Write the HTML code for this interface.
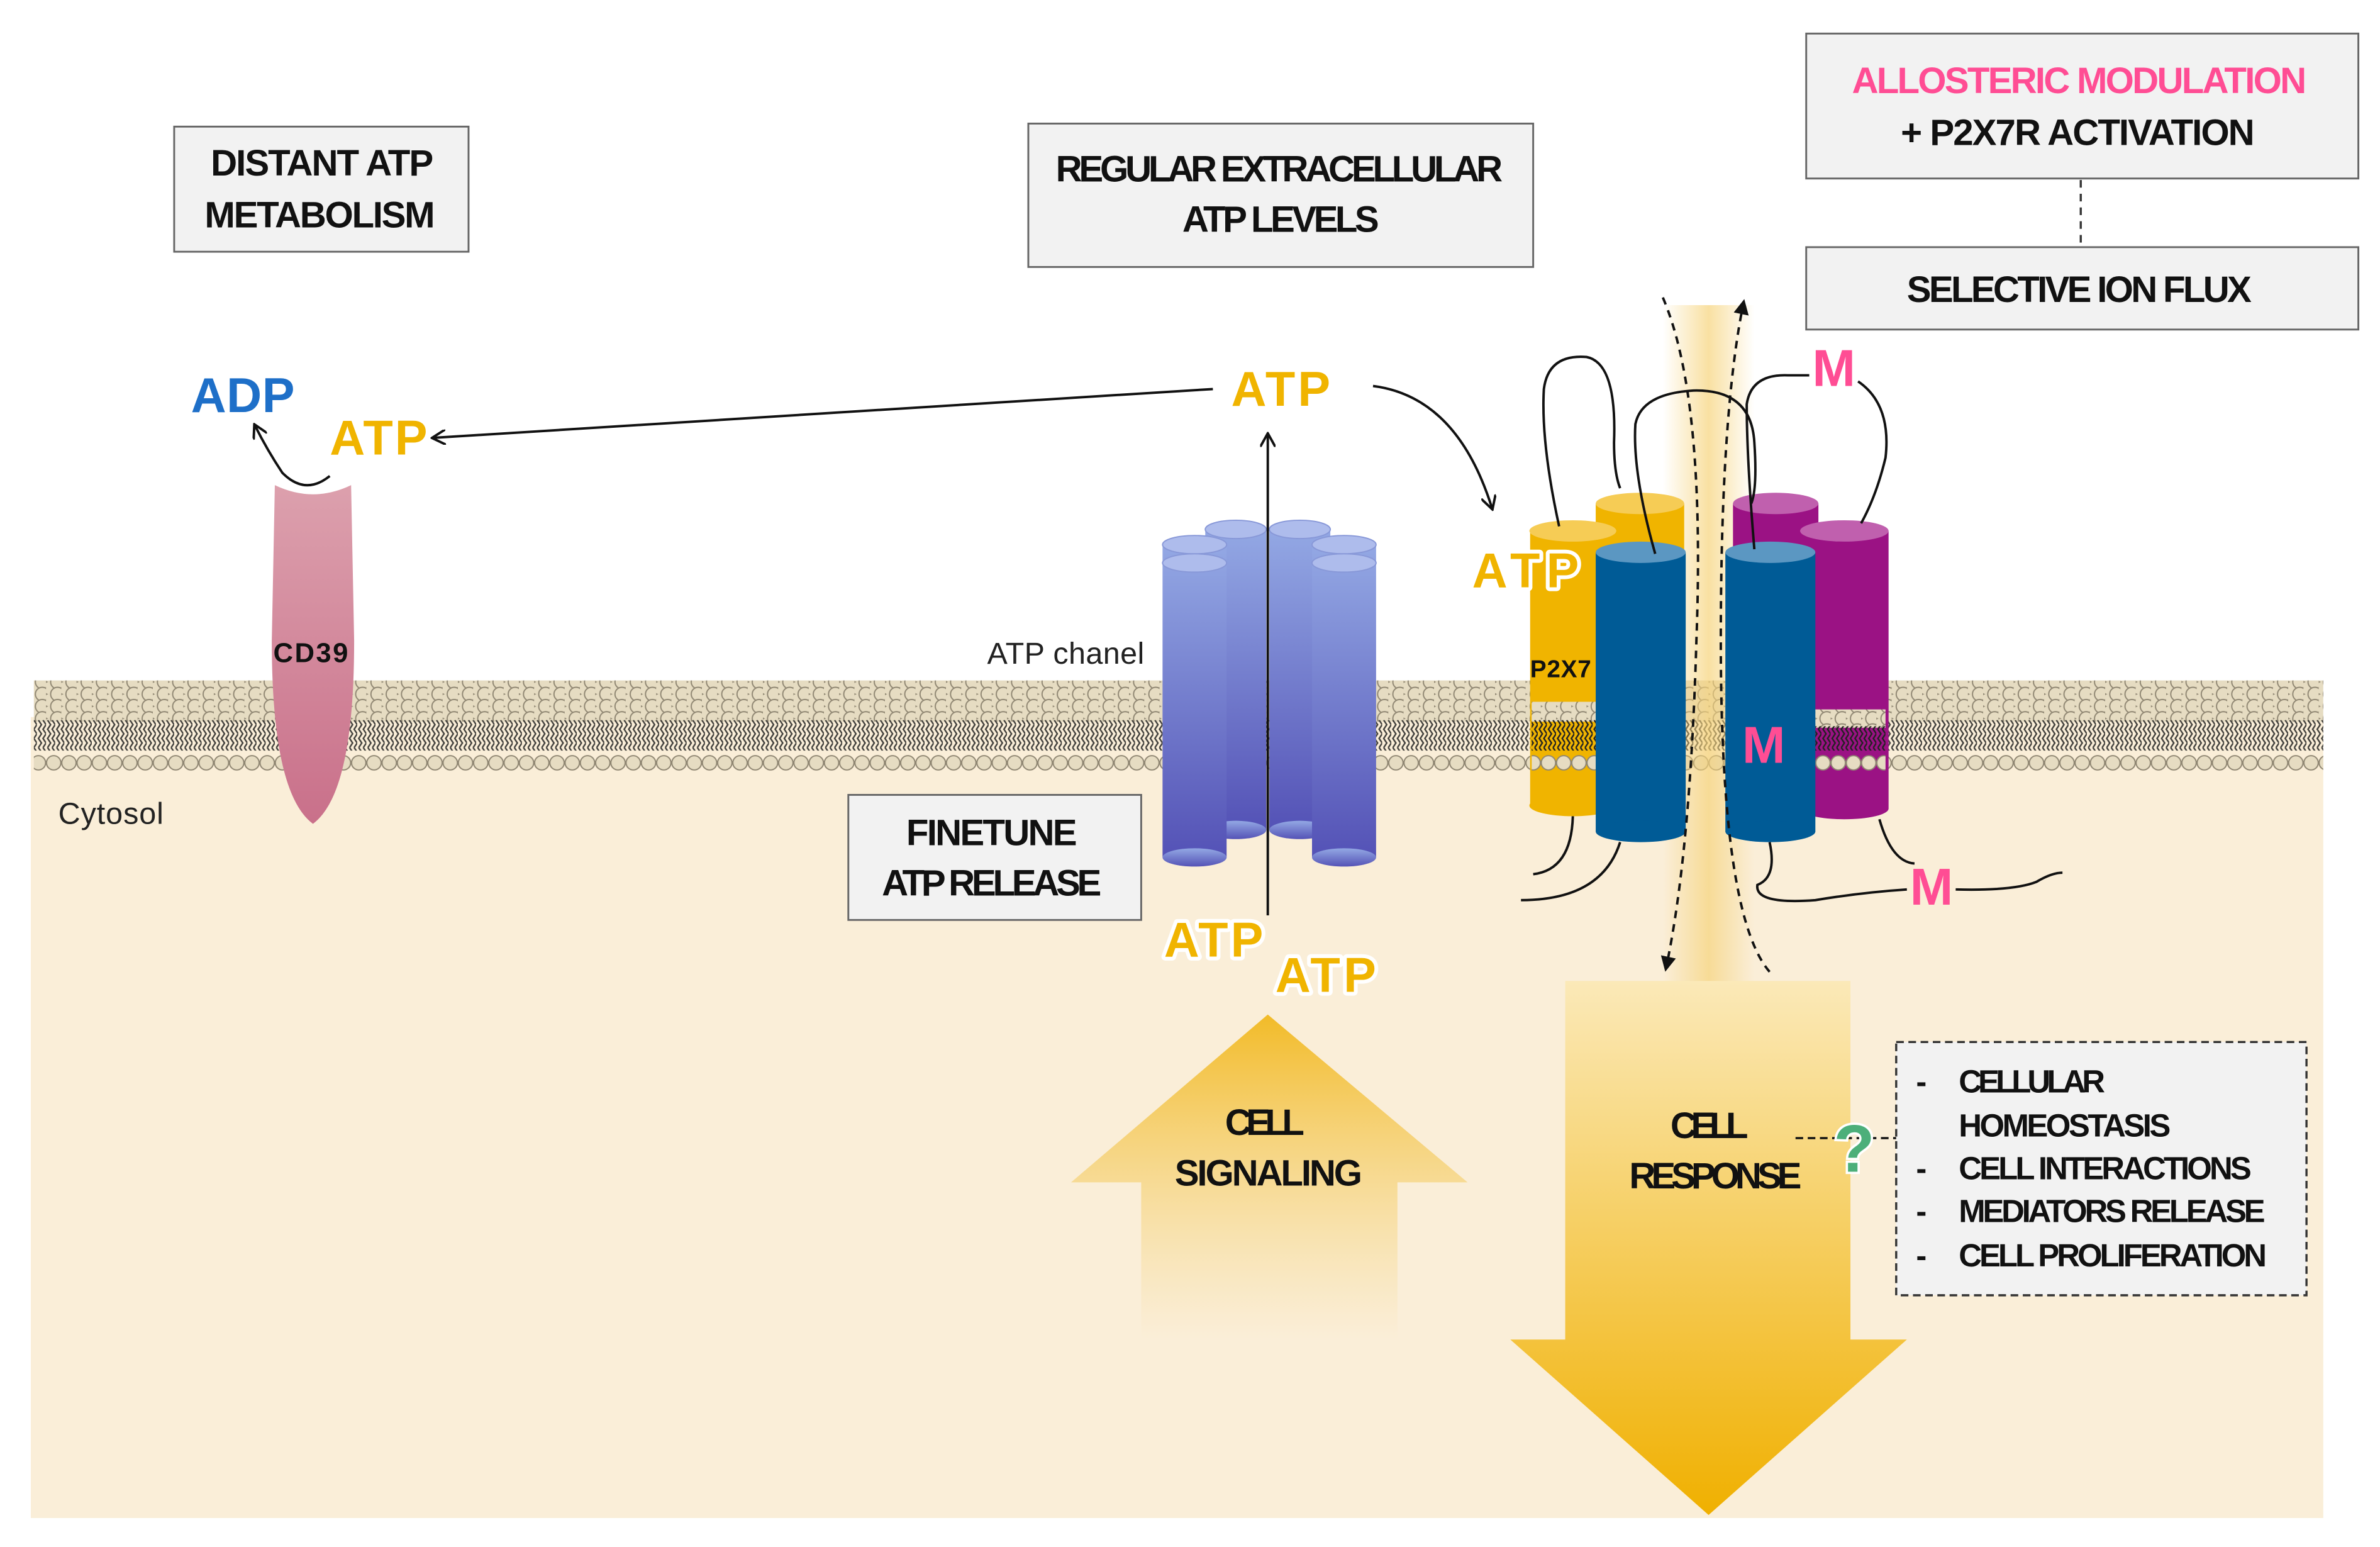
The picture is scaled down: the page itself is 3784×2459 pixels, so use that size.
<!DOCTYPE html>
<html><head><meta charset="utf-8"><style>
html,body{margin:0;padding:0;background:#fff}
svg{display:block}
text{font-family:"Liberation Sans",sans-serif}
.b{font-weight:bold;fill:#111;font-size:24px}
.atp{font-weight:bold;fill:#f0b400;font-size:32px;stroke:#fff;stroke-width:5px;paint-order:stroke;stroke-linejoin:round}
.m{font-weight:bold;fill:#ff4d94;font-size:34px}
</style></head><body>
<svg width="3784" height="2459" viewBox="0 0 1560 1014" xmlns="http://www.w3.org/2000/svg">
<defs>
<pattern id="heads" x="0" y="447" width="10" height="8" patternUnits="userSpaceOnUse">
<circle cx="2.5" cy="4" r="4.5" fill="#e6dcc2" stroke="#8f8672" stroke-width="0.8"/>
<circle cx="7.5" cy="0" r="4.5" fill="#e6dcc2" stroke="#8f8672" stroke-width="0.8"/>
<circle cx="7.5" cy="8" r="4.5" fill="#e6dcc2" stroke="#8f8672" stroke-width="0.8"/>
</pattern>
<pattern id="row" x="0" y="490" width="10" height="40" patternUnits="userSpaceOnUse">
<circle cx="5" cy="10" r="4.7" fill="#e6dcc2" stroke="#8f8672" stroke-width="0.8"/>
</pattern>
<pattern id="tails" x="0" y="472" width="6" height="18" patternUnits="userSpaceOnUse">
<path d="M1 0 l2 3 l-2 3 l2 3 l-2 3 l2 3 l-2 3 M4 0 l2 3 l-2 3 l2 3 l-2 3 l2 3 l-2 3" fill="none" stroke="#222" stroke-width="1"/>
</pattern>
<linearGradient id="cd39" x1="0" y1="0" x2="0" y2="1"><stop offset="0" stop-color="#dca0ad"/><stop offset="1" stop-color="#c9708a"/></linearGradient>
<linearGradient id="chan" x1="0" y1="0" x2="0" y2="1"><stop offset="0" stop-color="#93a8e4"/><stop offset="1" stop-color="#5452b6"/></linearGradient>
<linearGradient id="up" x1="0" y1="0" x2="0" y2="1"><stop offset="0" stop-color="#f2bb28"/><stop offset="1" stop-color="#faeed8" stop-opacity="0.6"/></linearGradient>
<linearGradient id="down" x1="0" y1="0" x2="0" y2="1"><stop offset="0" stop-color="#fbe9b8"/><stop offset="1" stop-color="#f0b000"/></linearGradient>
<linearGradient id="glow" x1="0" y1="0" x2="1" y2="0"><stop offset="0" stop-color="#f6d37a" stop-opacity="0"/><stop offset="0.5" stop-color="#f6d37a" stop-opacity="0.7"/><stop offset="1" stop-color="#f6d37a" stop-opacity="0"/></linearGradient>
<marker id="ah" markerWidth="10" markerHeight="10" refX="8" refY="5" orient="auto" markerUnits="userSpaceOnUse"><path d="M0 0 L9 5 L0 10" fill="none" stroke="#111" stroke-width="1.6"/></marker>
<marker id="ahf" markerWidth="10" markerHeight="10" refX="8" refY="5" orient="auto" markerUnits="userSpaceOnUse"><path d="M0 0 L10 5 L0 10 z" fill="#111"/></marker>
</defs>

<rect x="20" y="470" width="1503" height="525" fill="#faeed8"/>
<rect x="22" y="446" width="1501" height="27" fill="url(#heads)"/>
<rect x="22" y="472" width="1501" height="20" fill="url(#tails)" opacity="0.85"/>
<rect x="22" y="494" width="1501" height="17" fill="url(#row)"/>

<rect x="114" y="83" width="193" height="82" fill="#f2f2f2" stroke="#666" stroke-width="1.2"/>
<text class="b" x="138" y="115" textLength="146">DISTANT ATP</text>
<text class="b" x="134" y="149" textLength="151">METABOLISM</text>

<rect x="674" y="81" width="331" height="94" fill="#f2f2f2" stroke="#666" stroke-width="1.2"/>
<text class="b" x="692" y="119" textLength="293">REGULAR EXTRACELLULAR</text>
<text class="b" x="775" y="152" textLength="129">ATP LEVELS</text>

<rect x="1184" y="22" width="362" height="95" fill="#f2f2f2" stroke="#666" stroke-width="1.2"/>
<text class="b" x="1214" y="61" textLength="298" style="fill:#ff4d94">ALLOSTERIC MODULATION</text>
<text class="b" x="1246" y="95" textLength="232">+ P2X7R ACTIVATION</text>
<line x1="1364" y1="118" x2="1364" y2="161" stroke="#333" stroke-width="1.4" stroke-dasharray="5,4"/>
<rect x="1184" y="162" width="362" height="54" fill="#f2f2f2" stroke="#666" stroke-width="1.2"/>
<text class="b" x="1250" y="198" textLength="226">SELECTIVE ION FLUX</text>

<rect x="556" y="521" width="192" height="82" fill="#f2f2f2" stroke="#666" stroke-width="1.2"/>
<text class="b" x="594" y="554" textLength="112">FINETUNE</text>
<text class="b" x="578" y="587" textLength="144">ATP RELEASE</text>

<path d="M180 318 Q205 330 230 318 L232 420 Q232 520 205 540 Q178 520 178 420 Z" fill="url(#cd39)"/>
<text x="179" y="434" font-weight="bold" font-size="18" fill="#111" textLength="49">CD39</text>
<path d="M216 312 Q200 325 185 310 Q175 295 167 279" fill="none" stroke="#111" stroke-width="1.6" marker-end="url(#ah)"/>
<text x="125" y="270" font-weight="bold" font-size="32" fill="#1e6fc8" stroke="#fff" stroke-width="4" paint-order="stroke" textLength="68">ADP</text>
<text class="atp" x="216" y="298" textLength="64">ATP</text>

<g fill="url(#chan)">
<rect x="790" y="347" width="40" height="197"/><ellipse cx="810" cy="544" rx="20" ry="6"/>
<rect x="832" y="347" width="40" height="197"/><ellipse cx="852" cy="544" rx="20" ry="6"/>
<rect x="762" y="357" width="42" height="205"/><ellipse cx="783" cy="562" rx="21" ry="6"/>
<rect x="860" y="357" width="42" height="205"/><ellipse cx="881" cy="562" rx="21" ry="6"/>
</g>
<g fill="#aebcec" stroke="#8898d8" stroke-width="0.8">
<ellipse cx="810" cy="347" rx="20" ry="6"/><ellipse cx="852" cy="347" rx="20" ry="6"/>
<ellipse cx="783" cy="357" rx="21" ry="6"/><ellipse cx="881" cy="357" rx="21" ry="6"/>
<ellipse cx="783" cy="369" rx="21" ry="6"/><ellipse cx="881" cy="369" rx="21" ry="6"/>
</g>
<text x="647" y="435" font-size="20" fill="#222" textLength="103">ATP chanel</text>
<line x1="831" y1="600" x2="831" y2="285" stroke="#111" stroke-width="1.6" marker-end="url(#ah)"/>
<text class="atp" x="807" y="266" textLength="65">ATP</text>
<text class="atp" x="763" y="627" textLength="65">ATP</text>
<text class="atp" x="836" y="650" textLength="66">ATP</text>
<line x1="795" y1="255" x2="284" y2="287" stroke="#111" stroke-width="1.6" marker-end="url(#ah)"/>
<path d="M900 253 Q955 260 978 333" fill="none" stroke="#111" stroke-width="1.6" marker-end="url(#ah)"/>

<text x="38" y="540" font-size="20" fill="#222" textLength="69">Cytosol</text>

<rect x="1090" y="200" width="60" height="445" fill="url(#glow)"/>

<path d="M831 665 L962 775 L916 775 L916 878 L748 878 L748 775 L702 775 Z" fill="url(#up)"/>
<text class="b" x="803" y="744" textLength="52">CELL</text>
<text class="b" x="770" y="777" textLength="123">SIGNALING</text>
<path d="M1026 643 L1213 643 L1213 878 L1250 878 L1120 993 L990 878 L1026 878 Z" fill="url(#down)"/>
<text class="b" x="1095" y="746" textLength="51">CELL</text>
<text class="b" x="1068" y="779" textLength="113">RESPONSE</text>

<rect x="1046" y="330" width="58" height="200" fill="#f0b400"/><ellipse cx="1075" cy="330" rx="29" ry="7" fill="#f6cc55"/>
<rect x="1136" y="330" width="56" height="200" fill="#9b1284"/><ellipse cx="1164" cy="330" rx="28" ry="7" fill="#c060ae"/>
<rect x="1003" y="348" width="57" height="180" fill="#f0b400"/><ellipse cx="1031" cy="528" rx="28.5" ry="7" fill="#f0b400"/><ellipse cx="1031" cy="348" rx="28.5" ry="7" fill="#f6cc55"/>
<rect x="1180" y="348" width="58" height="182" fill="#9b1284"/><ellipse cx="1209" cy="530" rx="29" ry="7" fill="#9b1284"/><ellipse cx="1209" cy="348" rx="29" ry="7" fill="#c060ae"/>
<rect x="1004" y="460" width="42" height="13" fill="url(#heads)"/>
<rect x="1004" y="472" width="42" height="20" fill="url(#tails)"/>
<rect x="1004" y="494" width="42" height="17" fill="url(#row)"/>
<rect x="1186" y="465" width="50" height="12" fill="url(#heads)"/>
<rect x="1186" y="476" width="50" height="16" fill="url(#tails)"/>
<rect x="1186" y="494" width="50" height="17" fill="url(#row)"/>
<text x="1003" y="444" font-weight="bold" font-size="16" fill="#111" textLength="40">P2X7</text>
<rect x="1046" y="362" width="59" height="183" fill="#005b96"/><ellipse cx="1075.5" cy="545" rx="29.5" ry="7" fill="#005b96"/><ellipse cx="1075.5" cy="362" rx="29.5" ry="7" fill="#5b97c2"/>
<rect x="1131" y="362" width="59" height="183" fill="#005b96"/><ellipse cx="1160.5" cy="545" rx="29.5" ry="7" fill="#005b96"/><ellipse cx="1160.5" cy="362" rx="29.5" ry="7" fill="#5b97c2"/>
<text class="atp" x="965" y="385" textLength="70">ATP</text>
<text class="m" x="1142" y="500" textLength="30">M</text>

<g fill="none" stroke="#111" stroke-width="1.6">
<path d="M1022 345 Q1010 290 1012 255 Q1015 232 1040 234 Q1060 238 1058 290 Q1058 310 1062 320"/>
<path d="M1085 363 Q1070 310 1072 278 Q1076 258 1110 256 Q1148 255 1150 290 Q1152 320 1148 330"/>
<path d="M1150 360 Q1145 300 1145 265 Q1148 245 1172 246 L1186 246 M1218 250 Q1240 265 1236 300 Q1230 325 1220 343"/>
<path d="M1031 535 Q1030 570 1005 573"/>
<path d="M1062 552 Q1050 590 997 590"/>
<path d="M1160 552 Q1165 575 1152 580 Q1150 593 1190 590 Q1220 585 1250 583 M1282 583 Q1320 584 1335 578 Q1345 572 1352 572"/>
<path d="M1232 537 Q1240 565 1255 566"/>
</g>
<text class="m" x="1188" y="253" textLength="30">M</text>
<text class="m" x="1252" y="593" textLength="30">M</text>

<path d="M1090 195 Q1118 260 1112 420 Q1108 560 1092 635" fill="none" stroke="#111" stroke-width="1.6" stroke-dasharray="5,4" marker-end="url(#ahf)"/>
<path d="M1160 637 Q1128 600 1128 420 Q1128 270 1143 198" fill="none" stroke="#111" stroke-width="1.6" stroke-dasharray="5,4" marker-end="url(#ahf)"/>

<line x1="1177" y1="746" x2="1243" y2="746" stroke="#111" stroke-width="1.4" stroke-dasharray="5,3"/>
<text x="1202" y="768" font-weight="bold" font-size="44" fill="#4caf7a" stroke="#fff" stroke-width="3" paint-order="stroke">?</text>
<rect x="1243" y="683" width="269" height="166" fill="#f2f2f2" stroke="#333" stroke-width="1.4" stroke-dasharray="5,3"/>
<text class="b" x="1256" y="716" style="font-size:21px">-</text><text class="b" x="1284" y="716" style="font-size:21px" textLength="96">CELLULAR</text>
<text class="b" x="1284" y="745" style="font-size:21px" textLength="139">HOMEOSTASIS</text>
<text class="b" x="1256" y="773" style="font-size:21px">-</text><text class="b" x="1284" y="773" style="font-size:21px" textLength="192">CELL INTERACTIONS</text>
<text class="b" x="1256" y="801" style="font-size:21px">-</text><text class="b" x="1284" y="801" style="font-size:21px" textLength="201">MEDIATORS RELEASE</text>
<text class="b" x="1256" y="830" style="font-size:21px">-</text><text class="b" x="1284" y="830" style="font-size:21px" textLength="202">CELL PROLIFERATION</text>
</svg>
</body></html>
